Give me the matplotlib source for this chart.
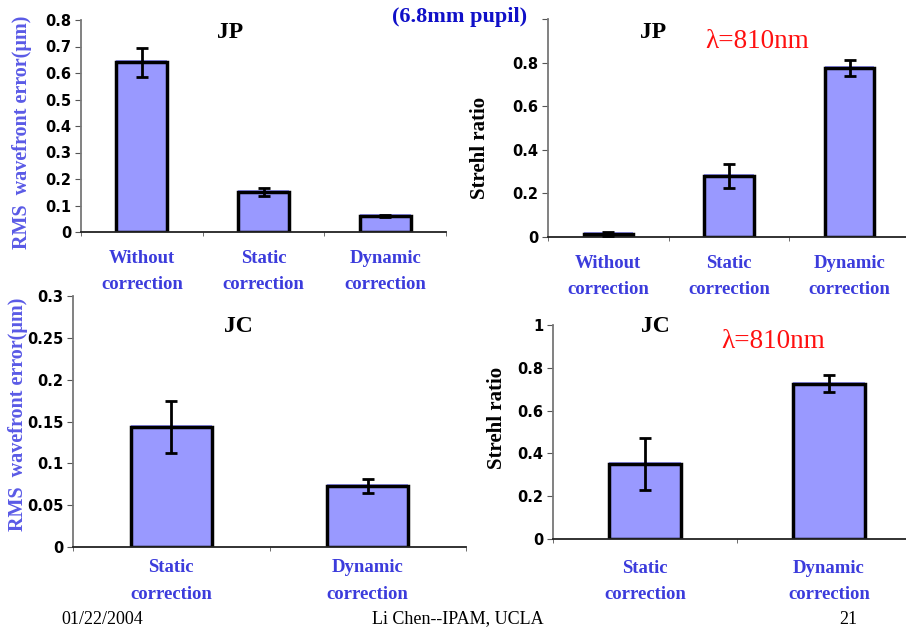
import numpy as np
import matplotlib
matplotlib.use("Agg")
import matplotlib.pyplot as plt
import matplotlib.transforms as mtransforms

# data
jp_cats = ["Without\ncorrection", "Static\ncorrection", "Dynamic\ncorrection"]
jc_cats = ["Static\ncorrection", "Dynamic\ncorrection"]

jp_rms = [0.64, 0.15, 0.06]
jp_rms_err = [0.055, 0.015, 0.004]
jp_strehl = [0.015, 0.28, 0.775]
jp_strehl_err = [0.01, 0.055, 0.035]

jc_rms = [0.143, 0.073]
jc_rms_err = [0.031, 0.008]
jc_strehl = [0.35, 0.725]
jc_strehl_err = [0.12, 0.04]

rms_ticks_jp = [0, 0.1, 0.2, 0.3, 0.4, 0.5, 0.6, 0.7, 0.8]
rms_ticks_jc = [0, 0.05, 0.1, 0.15, 0.2, 0.25, 0.3]
strehl_ticks_jp = [0, 0.2, 0.4, 0.6, 0.8, 1.0]
strehl_ticks_jc = [0, 0.2, 0.4, 0.6, 0.8, 1.0]

BAR = "#9999FF"
CATBLUE = "#3C3CDC"
SERIF = "Liberation Serif"


def panel(rect, cats, vals, errs, ylim, yticks, ticklabels, xspan, barw, pad):
    ax = fig.add_axes(rect)
    x = np.arange(len(cats)) + 0.5
    # the blue fill sits a little above the black outline on the slide
    shift = mtransforms.offset_copy(ax.transData, fig=fig, x=0, y=2, units="dots")
    ax.bar(x, vals, width=barw, color=BAR, linewidth=0, zorder=1, transform=shift)
    ax.bar(x, vals, width=barw, color=BAR, edgecolor="black", linewidth=2.5, zorder=2)
    ax.errorbar(x, vals, yerr=errs, fmt="none", ecolor="black", elinewidth=2,
                capsize=4, capthick=2, zorder=3)
    ax.set_xlim(0, xspan)
    ax.set_ylim(*ylim)
    ax.set_yticks(yticks)
    ax.set_yticklabels(ticklabels, fontsize=10.5, fontweight="bold", family="DejaVu Sans")
    ax.set_xticks(x)
    ax.set_xticklabels(cats, fontsize=13.5, fontweight="bold", family=SERIF,
                       color=CATBLUE, linespacing=1.7)
    ax.set_xticks(np.arange(len(cats) + 1), minor=True)
    ax.tick_params(axis="x", which="major", length=0, pad=pad)
    ax.tick_params(axis="x", which="minor", length=3, direction="out", color="#555555")
    ax.tick_params(axis="y", length=4, direction="out", color="#555555", pad=3)
    for s in ["top", "right"]:
        ax.spines[s].set_visible(False)
    ax.spines["left"].set_color("#777777")
    ax.spines["bottom"].set_color("#222222")
    ax.spines["left"].set_linewidth(1.3)
    ax.spines["bottom"].set_linewidth(1.3)
    ax.patch.set_visible(False)
    return ax


fig = plt.figure(figsize=(9.06, 6.31), dpi=100)
fig.patch.set_facecolor("white")

# top left: JP rms
panel([81 / 906, 1 - 232 / 631, 365 / 906, 212 / 631], jp_cats, jp_rms, jp_rms_err,
      (0, 0.8), rms_ticks_jp, ["0", "0.1", "0.2", "0.3", "0.4", "0.5", "0.6", "0.7", "0.8"],
      3, 0.42, 13)
# top right: JP strehl
panel([548 / 906, 1 - 237 / 631, 362 / 906, 218 / 631], jp_cats, jp_strehl, jp_strehl_err,
      (0, 1.0), strehl_ticks_jp, ["0", "0.2", "0.4", "0.6", "0.8", ""],
      3, 0.41, 13)
# bottom left: JC rms
panel([73 / 906, 1 - 547 / 631, 393 / 906, 251 / 631], jc_cats, jc_rms, jc_rms_err,
      (0, 0.3), rms_ticks_jc, ["0", "0.05", "0.1", "0.15", "0.2", "0.25", "0.3"],
      2, 0.41, 9)
# bottom right: JC strehl
panel([553 / 906, 1 - 539 / 631, 368 / 906, 214 / 631], jc_cats, jc_strehl, jc_strehl_err,
      (0, 1.0), strehl_ticks_jc, ["0", "0.2", "0.4", "0.6", "0.8", "1"],
      2, 0.39, 15)

# y labels
fig.text(22 / 906, 1 - 132 / 631, "RMS  wavefront error(\u03bcm)", rotation=90, ha="center",
         va="center", fontsize=14.5, fontweight="bold", family=SERIF, color="#5A5AE6")
fig.text(18 / 906, 1 - 414 / 631, "RMS  wavefront error(\u03bcm)", rotation=90, ha="center",
         va="center", fontsize=14.5, fontweight="bold", family=SERIF, color="#5A5AE6")
fig.text(480 / 906, 1 - 148 / 631, "Strehl ratio", rotation=90, ha="center", va="center",
         fontsize=15, fontweight="bold", family=SERIF, color="black")
fig.text(497 / 906, 1 - 418 / 631, "Strehl ratio", rotation=90, ha="center", va="center",
         fontsize=15, fontweight="bold", family=SERIF, color="black")

# panel titles
for xp, yp, t in [(230, 33, "JP"), (653, 33, "JP"), (238, 327, "JC"), (655, 327, "JC")]:
    fig.text(xp / 906, 1 - yp / 631, t, ha="center", va="center", fontsize=17,
             fontweight="bold", family=SERIF, color="black")

for xp, yp in [(757, 41), (773, 342)]:
    fig.text(xp / 906, 1 - yp / 631, "\u03bb=810nm", ha="center", va="center", fontsize=19.5,
             family=SERIF, color="#FF1010")

fig.text(460 / 906, 1 - 17 / 631, "(6.8mm pupil)", ha="center", va="center", fontsize=16,
         fontweight="bold", family=SERIF, color="#1010C8")

# footer
fig.text(102 / 906, 1 - 619 / 631, "01/22/2004", ha="center", va="center", fontsize=13,
         family=SERIF)
fig.text(458 / 906, 1 - 619 / 631, "Li Chen--IPAM, UCLA", ha="center", va="center",
         fontsize=13, family=SERIF)
fig.text(848 / 906, 1 - 619 / 631, "21", ha="center", va="center", fontsize=13, family=SERIF)

fig.savefig("out.png", dpi=100)
